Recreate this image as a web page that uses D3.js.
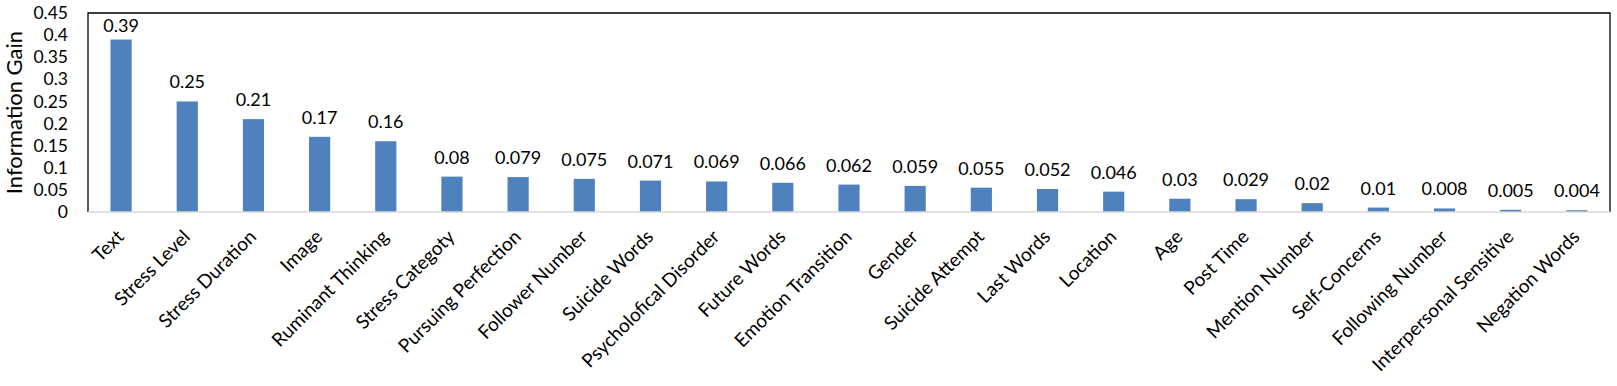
<!DOCTYPE html>
<html>
<head>
<meta charset="utf-8">
<script src="https://cdn.jsdelivr.net/npm/d3@7"></script>
<style>
  body { margin: 0; background: #fff; }
  svg text { font-family: Lato, "Open Sans", sans-serif; fill: #000; }
</style>
</head>
<body>
<script>
(function(){
// data
var features = ["Text", "Stress Level", "Stress Duration", "Image", "Ruminant Thinking",
    "Stress Categoty", "Pursuing Perfection", "Follower Number", "Suicide Words",
    "Psycholofical Disorder", "Future Words", "Emotion Transition", "Gender",
    "Suicide Attempt", "Last Words", "Location", "Age", "Post Time", "Mention Number",
    "Self-Concerns", "Following Number", "Interpersonal Sensitive", "Negation Words"];
var gains = [0.39, 0.25, 0.21, 0.17, 0.16, 0.08, 0.079, 0.075, 0.071, 0.069, 0.066,
    0.062, 0.059, 0.055, 0.052, 0.046, 0.03, 0.029, 0.02, 0.01, 0.008, 0.005, 0.004];
var yTicks = [0, 0.05, 0.1, 0.15, 0.2, 0.25, 0.3, 0.35, 0.4, 0.45];

var width = 1617, height = 386;
var plotLeft = 88, plotRight = 1610, plotTop = 13, plotBottom = 212;

var svg = d3.select("body").append("svg")
    .attr("width", width)
    .attr("height", height);

var x = d3.scaleBand()
    .domain(features)
    .range([plotLeft, plotRight])
    .paddingInner(0.68)
    .paddingOuter(0.34);

var y = d3.scaleLinear()
    .domain([0, 0.45])
    .range([plotBottom, plotTop]);

//plot frame (top, left, right in black)
svg.append("path")
    .attr("d", "M" + plotLeft + "," + plotBottom + "V" + plotTop + "H" + plotRight + "V" + plotBottom)
    .attr("fill", "none")
    .attr("stroke", "#000")
    .attr("stroke-width", 1.3);

//bars
svg.selectAll(".bar")
    .data(gains)
    .enter()
    .append("rect")
    .attr("class", "bar")
    .attr("x", function(d, i){ return x(features[i]); })
    .attr("width", x.bandwidth())
    .attr("y", function(d){ return y(d); })
    .attr("height", function(d){ return y(0) - y(d); })
    .attr("fill", "#4F81BD");

//category axis line
svg.append("line")
    .attr("x1", plotLeft).attr("x2", plotRight)
    .attr("y1", plotBottom).attr("y2", plotBottom)
    .attr("stroke", "#D9D9D9")
    .attr("stroke-width", 1.5);

//value labels (kept inside the frame like excel does)
svg.selectAll(".val")
    .data(gains)
    .enter()
    .append("text")
    .attr("class", "val")
    .attr("x", function(d, i){ return x(features[i]) + x.bandwidth() / 2; })
    .attr("y", function(d){ return Math.max(y(d) - 13, plotTop + 19); })
    .attr("text-anchor", "middle")
    .style("font-size", "18px")
    .text(function(d){ return d; });

//y axis
var yAxis = svg.append("g")
    .attr("transform", "translate(" + plotLeft + ",0)")
    .call(d3.axisLeft(y).tickValues(yTicks).tickSize(0).tickPadding(20)
        .tickFormat(function(d){ return String(+d.toFixed(2)); }));
yAxis.select(".domain").remove();
yAxis.selectAll("text")
    .style("font-size", "17.5px")
    .style("font-family", "Lato, 'Open Sans', sans-serif");

//x axis labels, rotated
var xAxis = svg.append("g")
    .attr("transform", "translate(0," + plotBottom + ")")
    .call(d3.axisBottom(x).tickSize(0).tickPadding(0));
xAxis.select(".domain").remove();
xAxis.selectAll("text")
    .attr("text-anchor", "end")
    .attr("dy", 0)
    .attr("transform", "translate(4,26) rotate(-45)")
    .style("font-size", "19px")
    .style("font-family", "Lato, 'Open Sans', sans-serif");

//y title
svg.append("text")
    .attr("transform", "translate(22," + ((plotTop + plotBottom) / 2) + ") rotate(-90)")
    .attr("text-anchor", "middle")
    .style("font-size", "22px")
    .text("Information Gain");
})();
</script>
</body>
</html>
